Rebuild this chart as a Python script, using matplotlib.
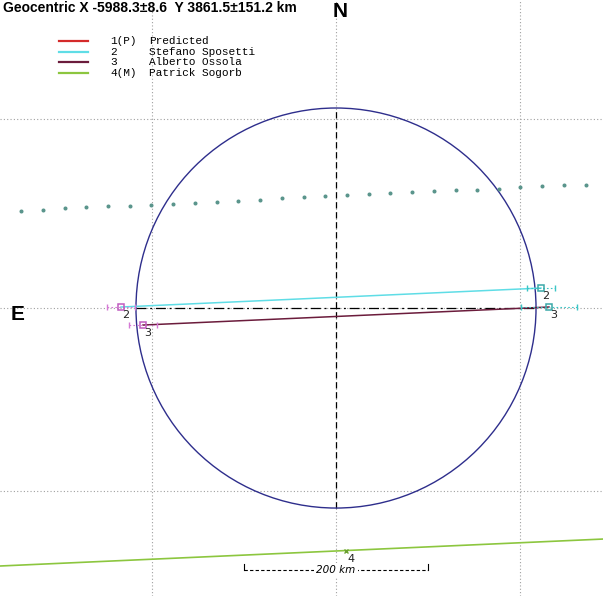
import numpy as np
import matplotlib
matplotlib.use("Agg")
import matplotlib.pyplot as plt
from matplotlib.patches import Circle

# ---------------- data (km, relative to fundamental plane centre) ----------------
title_text = "Geocentric X -5988.3\u00b18.6  Y 3861.5\u00b1151.2 km"
legend_codes = ["1(P)", "2", "3", "4(M)"]
legend_names = ["Predicted", "Stefano Sposetti", "Alberto Ossola", "Patrick Sogorb"]
legend_colors = ["#d42a2a", "#5fdde6", "#6b1c3c", "#8cc63f"]

circle_radius = 217.4

# chords: disappearance (left) and reappearance (right) points
chord_ids = ["2", "3"]
chord_dx = [-233.7, -209.8]
chord_dy = [1.1, -18.5]
chord_rx = [222.8, 231.5]
chord_ry = [21.7, 1.1]
chord_derr = [15.0, 15.0]
chord_rerr = [15.0, 30.0]
chord_colors = ["#5fdde6", "#6b1c3c"]

# miss chord (observer 4)
miss_x = [-365.2, 290.2]
miss_y = [-280.4, -251.1]
miss_mark_x = [10.9]
miss_mark_y = [-264.1]

# dotted path
dots_x = [-342.5, -318.7, -295.0, -271.4, -247.7, -224.3, -200.6, -177.0, -153.3,
          -129.5, -106.3, -82.6, -58.9, -35.1, -11.5, 11.8, 35.5, 59.2, 82.5,
          106.2, 129.9, 153.2, 176.9, 200.5, 223.9, 247.6, 271.2]
dots_y = [105.7, 106.9, 108.5, 109.7, 110.4, 111.1, 112.3, 113.4, 114.6, 115.3,
          116.4, 117.6, 119.1, 120.3, 121.4, 122.6, 123.7, 124.9, 125.6, 126.8,
          128.0, 128.6, 129.8, 131.3, 132.5, 133.2, 133.8]

grid_x = [-200, 0, 200]
grid_y = [-199, 0, 206]
scale_len = 200
scale_y = -284.8

# ---------------- figure ----------------
W, H = 603, 596
fig = plt.figure(figsize=(W / 100, H / 100), dpi=100)
ax = fig.add_axes([0, 0, 1, 1])
ax.set_xlim(-365.2, 290.2)
ax.set_ylim(-313.0, 334.8)
ax.axis("off")

# grid (dotted)
for g in grid_x:
    ax.axvline(g, color="#a0a0a0", lw=0.8, ls=(0, (1, 2)), zorder=1)
for g in grid_y:
    ax.axhline(g, color="#a0a0a0", lw=0.8, ls=(0, (1, 2)), zorder=1)

# centre cross
ax.plot([-circle_radius, circle_radius], [0, 0], color="black", lw=0.9,
        ls=(0, (8, 3, 1.5, 3)), zorder=2)
ax.plot([0, 0], [-circle_radius, circle_radius], color="black", lw=0.9,
        ls=(0, (5, 3)), zorder=2)

# circle
ax.add_patch(Circle((0, 0), circle_radius, fill=False, ec="#2e2e8c", lw=1.0, zorder=3))

# dotted path
ax.plot(dots_x, dots_y, ls="none", marker="o", ms=1.9, color="#5a958c", zorder=3)

# chords
for i in range(len(chord_ids)):
    c = chord_colors[i]
    ax.plot([chord_dx[i], chord_rx[i]], [chord_dy[i], chord_ry[i]], color=c, lw=1.1, zorder=4)
    # disappearance error bar (magenta)
    ax.plot([chord_dx[i] - chord_derr[i], chord_dx[i] + chord_derr[i]], [chord_dy[i]] * 2,
            color="#d57ad5", lw=0.8, ls=(0, (1.5, 2)), zorder=4)
    ax.plot([chord_dx[i] - chord_derr[i], chord_dx[i] + chord_derr[i]], [chord_dy[i]] * 2,
            ls="none", marker="|", ms=5, mew=1.0, color="#d57ad5", zorder=5)
    ax.plot(chord_dx[i], chord_dy[i], marker="s", ms=4.5, mfc="none", mec="#c05cc0",
            mew=1.1, zorder=6)
    # reappearance error bar (cyan)
    ax.plot([chord_rx[i] - chord_rerr[i], chord_rx[i] + chord_rerr[i]], [chord_ry[i]] * 2,
            color="#3cc6c6", lw=0.8, ls=(0, (1.5, 2)), zorder=4)
    ax.plot([chord_rx[i] - chord_rerr[i], chord_rx[i] + chord_rerr[i]], [chord_ry[i]] * 2,
            ls="none", marker="|", ms=5, mew=1.0, color="#3cc6c6", zorder=5)
    ax.plot(chord_rx[i], chord_ry[i], marker="s", ms=4.5, mfc="none", mec="#3aa8a8",
            mew=1.1, zorder=6)
    for (x, y) in [(chord_dx[i], chord_dy[i]), (chord_rx[i], chord_ry[i])]:
        ax.annotate(chord_ids[i], (x, y), xytext=(1, -2), textcoords="offset points",
                    ha="left", va="top", fontsize=8, family="DejaVu Sans", color="#222222",
                    zorder=7)

# miss chord
ax.plot(miss_x, miss_y, color="#8cc63f", lw=1.2, zorder=4)
ax.plot(miss_mark_x, miss_mark_y, ls="none", marker="x", ms=3.5, mew=1.0, color="#6aa030",
        zorder=5)
ax.annotate("4", (miss_mark_x[0], miss_mark_y[0]), xytext=(1, -2), textcoords="offset points",
            ha="left", va="top", fontsize=8, family="DejaVu Sans", color="#222222", zorder=7)

# scale bar
ax.plot([-scale_len / 2, scale_len / 2], [scale_y, scale_y], color="black", lw=0.8,
        ls=(0, (3, 2)), zorder=4)
for sx in [-scale_len / 2, scale_len / 2]:
    ax.plot([sx, sx], [scale_y, scale_y + 7], color="black", lw=0.8, zorder=4)
ax.text(0, scale_y, f"{scale_len} km", ha="center", va="center", fontsize=7.5,
        style="italic", family="DejaVu Sans",
        bbox=dict(fc="white", ec="none", pad=1.5), zorder=5)

# legend (drawn in axes-fraction coordinates)
def px(x, y):
    return x / W, 1 - y / H

for i in range(len(legend_codes)):
    yy = 41 + i * 10.7
    x0, y0 = px(59, yy)
    x1, _ = px(88, yy)
    ax.plot([x0, x1], [y0, y0], color=legend_colors[i], lw=1.6, transform=ax.transAxes)
    ax.text(px(110, yy)[0], y0, legend_codes[i], transform=ax.transAxes, ha="left",
            va="center", fontsize=8, family="Liberation Mono")
    ax.text(px(149, yy)[0], y0, legend_names[i], transform=ax.transAxes, ha="left",
            va="center", fontsize=8, family="Liberation Mono")

# title, N, E
ax.text(*px(3, 12), title_text, transform=ax.transAxes, ha="left", va="baseline",
        fontsize=10, fontweight="bold", family="Liberation Sans")
ax.text(*px(340, 17), "N", transform=ax.transAxes, ha="center", va="baseline",
        fontsize=15, fontweight="bold", family="Liberation Sans")
ax.text(*px(18, 320), "E", transform=ax.transAxes, ha="center", va="baseline",
        fontsize=15, fontweight="bold", family="Liberation Sans")

fig.savefig("out.png", dpi=100, facecolor="white")
